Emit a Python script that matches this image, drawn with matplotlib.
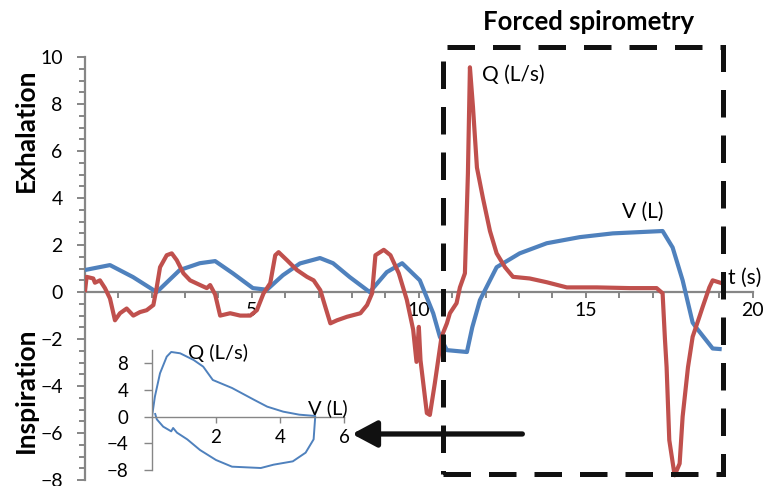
import numpy as np
import matplotlib
matplotlib.use("Agg")
import matplotlib.pyplot as plt
from matplotlib.patches import Rectangle

plt.rcParams['font.family'] = ['Lato', 'DejaVu Sans']

# flow Q (L/s) vs time
t_q = [0.0, 0.05, 0.25, 0.3, 0.45, 0.6, 0.75, 0.9, 1.05, 1.25, 1.45, 1.65, 1.85, 2.05,
       2.15, 2.25, 2.45, 2.6, 2.75, 2.95, 3.15, 3.45, 3.65, 3.75, 3.9, 4.05, 4.35, 4.65,
       4.95, 5.15, 5.35, 5.55, 5.7, 5.8, 6.05, 6.35, 6.65, 6.85, 7.05, 7.2, 7.35, 7.55,
       7.85, 8.25, 8.45, 8.6, 8.7, 8.95, 9.15, 9.4, 9.64, 9.83, 9.93, 10.0, 10.05, 10.24,
       10.33, 10.48, 10.68, 10.84, 10.93, 11.13, 11.23, 11.38, 11.47, 11.53, 11.62, 11.74,
       11.92, 12.13, 12.33, 12.58, 12.82, 13.32, 13.83, 14.43, 15.33, 16.32, 17.12, 17.3,
       17.37, 17.42, 17.5, 17.66, 17.81, 17.9, 18.06, 18.2, 18.4, 18.5, 18.7, 18.8, 19.07]
q = [0.0, 0.65, 0.58, 0.4, 0.5, 0.17, -0.27, -1.2, -0.9, -0.7, -1.0, -0.85, -0.77, -0.55,
     0.2, 1.06, 1.57, 1.65, 1.36, 0.8, 0.5, 0.3, 0.17, 0.3, -0.1, -1.0, -0.9, -1.0,
     -1.0, -0.77, -0.05, 0.38, 1.57, 1.7, 1.36, 0.94, 0.65, 0.5, 0.08, -0.63, -1.33, -1.2,
     -1.05, -0.9, -0.55, -0.05, 1.57, 1.8, 1.57, 0.8, -0.33, -1.6, -2.97, -1.48, -2.9, -5.15,
     -5.23, -3.87, -1.9, -1.33, -0.9, -0.47, 0.2, 0.8, 5.06, 9.57, 7.9, 5.3,
     4.0, 2.6, 1.65, 1.06, 0.65, 0.58, 0.42, 0.2, 0.2, 0.17, 0.17, -0.05,
     -2.0, -3.2, -6.3, -7.8, -7.3, -5.3, -3.2, -1.9, -1.06, -0.63, 0.2, 0.5, 0.38]

# volume V (L) vs time
t_v = [0.0, 0.75, 1.44, 2.15, 2.84, 3.44, 3.9, 4.43, 5.03, 5.45, 5.93, 6.44, 7.04, 7.43,
       7.93, 8.53, 9.04, 9.5, 10.03, 10.43, 10.63, 10.84, 11.44, 11.6, 11.83, 12.33, 13.02,
       13.83, 14.82, 15.81, 17.3, 17.6, 17.9, 18.2, 18.3, 18.8, 19.07]
v = [0.94, 1.15, 0.64, 0.0, 0.94, 1.23, 1.32, 0.8, 0.17, 0.1, 0.72, 1.22, 1.45, 1.23,
     0.64, 0.0, 0.85, 1.23, 0.5, -0.9, -1.9, -2.47, -2.55, -1.5, -0.34, 1.06, 1.65,
     2.08, 2.34, 2.5, 2.6, 1.9, 0.5, -1.3, -1.5, -2.4, -2.43]

# flow-volume loop (inset)
loop_v = [0.0, 0.09, 0.25, 0.46, 0.6, 0.88, 1.3, 1.6, 1.9, 2.5, 3.2, 3.6, 4.1, 4.6, 5.1,
          5.1, 5.05, 4.8, 4.4, 3.8, 3.4, 2.5, 2.0, 1.5, 1.1, 0.78, 0.66, 0.6, 0.35, 0.15, 0.1]
loop_q = [0.0, 3.0, 6.5, 9.0, 9.7, 9.5, 8.5, 7.5, 5.5, 4.3, 2.5, 1.5, 0.75, 0.3, 0.1,
          0.0, -3.4, -5.4, -6.7, -7.2, -7.7, -7.5, -6.5, -5.0, -3.4, -2.4, -1.7, -2.2, -1.5, -0.4, 0.4]

red = '#C0504D'
blue = '#4F81BD'
grey = '#868686'

fig = plt.figure(figsize=(7.65, 4.86), dpi=100)
ax = fig.add_axes([0.111, 0.0123, 0.873, 0.870])

ax.plot(t_v, v, color=blue, lw=3.0, solid_capstyle='butt', zorder=3)
ax.plot(t_q, q, color=red, lw=3.0, solid_capstyle='butt', zorder=4)

ax.set_xlim(0, 20)
ax.set_ylim(-8, 10)
ax.spines['top'].set_visible(False)
ax.spines['right'].set_visible(False)
ax.spines['bottom'].set_position(('data', 0))
for s in ['left', 'bottom']:
    ax.spines[s].set_color(grey)
    ax.spines[s].set_linewidth(1.6)
ax.set_xticks([5, 10, 15, 20])
ax.set_xticks(np.arange(1, 21, 1), minor=True)
ax.set_yticks(np.arange(-8, 11, 2))
ax.set_yticks(np.arange(-8, 10.1, 0.5), minor=True)
ax.tick_params(axis='x', which='major', length=4, width=1.4, color=grey, pad=3, labelsize=14)
ax.tick_params(axis='x', which='minor', length=4, width=1.4, color=grey)
ax.tick_params(axis='y', which='major', length=6, width=1.4, color=grey, pad=10, labelsize=14)
ax.tick_params(axis='y', which='minor', length=4.5, width=1.4, color=grey)
ax.patch.set_visible(False)

ax.text(11.9, 9.23, 'Q (L/s)', fontsize=15, va='center', ha='left')
ax.text(16.08, 3.4, 'V (L)', fontsize=15, va='center', ha='left')
ax.text(19.25, 0.6, 't (s)', fontsize=15, va='center', ha='left')

# forced spirometry box
box = Rectangle((10.72, -7.75), 19.1 - 10.72, 10.43 + 7.75, fill=False, ec='#111111',
                lw=3.6, linestyle=(0, (5.5, 3.6)), clip_on=False, zorder=5)
ax.add_patch(box)
ax.annotate('', xy=(8.0, -6.04), xytext=(13.1, -6.04),
            arrowprops=dict(arrowstyle='-|>,head_length=1.5,head_width=0.8', color='#111111',
                            lw=3.8, shrinkA=0, shrinkB=0), annotation_clip=False, zorder=5)

fig.text(0.769, 0.955, 'Forced spirometry', fontsize=18.5, fontweight='bold', ha='center', va='center')
fig.text(0.034, 0.733, 'Exhalation', fontsize=19, fontweight='bold', rotation=90, ha='center', va='center')
fig.text(0.034, 0.198, 'Inspiration', fontsize=19, fontweight='bold', rotation=90, ha='center', va='center')

# inset: flow-volume loop
ins = fig.add_axes([0.1987, 0.0329, 0.251, 0.247])
ins.plot(loop_v, loop_q, color=blue, lw=1.4)
ins.set_xlim(0, 6)
ins.set_ylim(-8, 10)
ins.spines['top'].set_visible(False)
ins.spines['right'].set_visible(False)
ins.spines['bottom'].set_position(('data', 0))
for s in ['left', 'bottom']:
    ins.spines[s].set_color(grey)
    ins.spines[s].set_linewidth(1.0)
ins.set_xticks([2, 4, 6])
ins.set_yticks([-8, -4, 0, 4, 8])
ins.tick_params(axis='x', length=4, width=1.0, color=grey, pad=5, labelsize=13.5)
ins.tick_params(axis='y', length=6, width=1.0, color=grey, pad=11, labelsize=13.5)
ins.patch.set_visible(False)
ins.text(1.12, 9.5, 'Q (L/s)', fontsize=14.5, va='center', ha='left')
ins.text(4.88, 1.3, 'V (L)', fontsize=14.5, va='center', ha='left')

fig.savefig('out.png', dpi=100)
